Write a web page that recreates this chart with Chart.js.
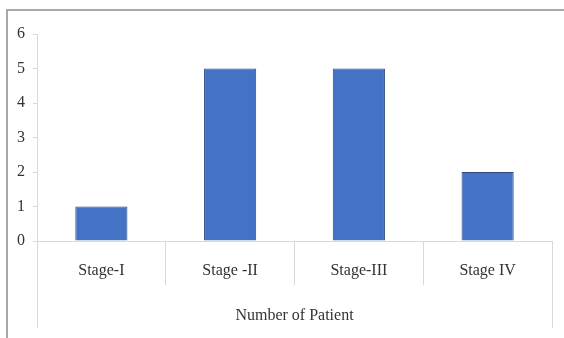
<!DOCTYPE html>
<html>
<head>
<meta charset="utf-8">
<script src="https://cdn.jsdelivr.net/npm/chart.js@4/dist/chart.umd.min.js"></script>
<style>
  html, body { margin: 0; padding: 0; background: #fff; overflow: hidden; }
  #wrap { position: relative; width: 564px; height: 338px; }
  #frame { position: absolute; left: 6px; top: 9px; width: 600px; height: 400px;
           border-top: 2px solid #a9a9a9; border-left: 2px solid #a9a9a9; }
  canvas { position: absolute; left: 0; top: 0; }
</style>
</head>
<body>
<div id="wrap">
  <div id="frame"></div>
  <canvas id="c" width="564" height="338"></canvas>
</div>
<script>
// Patients per cancer stage
const categories = ['Stage-I', 'Stage -II', 'Stage-III', 'Stage IV'];
const patientCounts = [1, 5, 5, 2];
const yMin = 0;
const yMax = 6;
const yStep = 1;
const groupLabel = 'Number of Patient';

const axisGray = '#d9d9d9';
const textColor = '#333333';
const serif = "'Liberation Serif', 'Times New Roman', serif";

// Extends the outer category dividers down through the group label row
const tableLines = {
  id: 'tableLines',
  afterDraw(chart) {
    const { ctx, chartArea } = chart;
    const bottom = chart.height - 10;
    ctx.save();
    ctx.strokeStyle = axisGray;
    ctx.lineWidth = 1;
    ctx.beginPath();
    ctx.moveTo(Math.round(chartArea.left) + 0.5, chartArea.bottom);
    ctx.lineTo(Math.round(chartArea.left) + 0.5, bottom);
    ctx.moveTo(Math.round(chartArea.right) + 0.5, chartArea.bottom);
    ctx.lineTo(Math.round(chartArea.right) + 0.5, bottom);
    ctx.stroke();
    ctx.restore();
  }
};

new Chart(document.getElementById('c'), {
  type: 'bar',
  data: {
    labels: categories,
    datasets: [{
      data: patientCounts,
      backgroundColor: '#4472c4',
      borderColor: '#2c4a80',
      borderWidth: 1,
      categoryPercentage: 1,
      barPercentage: 0.405
    }]
  },
  options: {
    responsive: false,
    animation: false,
    layout: { padding: { left: 0, top: 34, right: 12, bottom: 0 } },
    plugins: { legend: { display: false }, tooltip: { enabled: false } },
    scales: {
      x: {
        offset: true,
        afterFit(scale) { scale.height = 97; },
        border: { display: true, color: axisGray, width: 1 },
        grid: {
          offset: true,
          drawOnChartArea: false,
          drawTicks: true,
          tickLength: 44,
          color: axisGray
        },
        ticks: {
          color: textColor,
          padding: -24,
          maxRotation: 0,
          font: { family: serif, size: 16 }
        },
        title: {
          display: true,
          text: groupLabel,
          color: textColor,
          padding: { top: 0, bottom: 13 },
          font: { family: serif, size: 16 }
        }
      },
      y: {
        min: yMin,
        max: yMax,
        afterFit(scale) { scale.width = 37; },
        border: { display: true, color: axisGray, width: 1 },
        grid: {
          drawOnChartArea: false,
          drawTicks: true,
          tickLength: 4,
          color: axisGray
        },
        ticks: {
          stepSize: yStep,
          color: textColor,
          padding: 8,
          font: { family: serif, size: 16 }
        }
      }
    }
  },
  plugins: [tableLines]
});
</script>
</body>
</html>
